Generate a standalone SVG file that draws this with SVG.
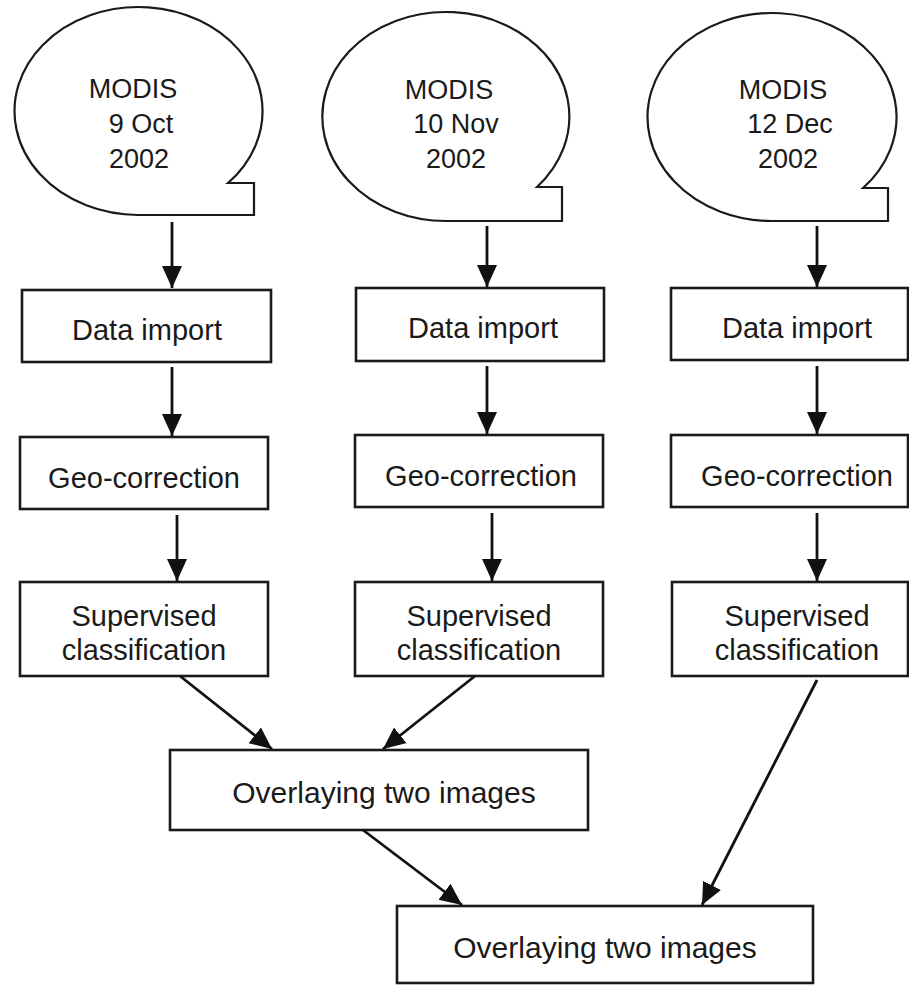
<svg xmlns="http://www.w3.org/2000/svg" width="909" height="985" viewBox="0 0 909 985">
<defs>
<marker id="ah" markerUnits="userSpaceOnUse" markerWidth="24" markerHeight="22" refX="22" refY="10" orient="auto">
<path d="M0,0 L22,10 L0,20 Z" fill="#111"/>
</marker>
<style>
.bub{fill:#fff;stroke:#1a1a1a;stroke-width:2.2}
.box{fill:#fff;stroke:#1a1a1a;stroke-width:2.6}
.t{font-family:"Liberation Sans",Arial,sans-serif;font-size:29px;fill:#1a1a1a;text-anchor:middle}
.tb{font-family:"Liberation Sans",Arial,sans-serif;font-size:27px;fill:#1a1a1a;text-anchor:middle}
.c{stroke:#111;stroke-width:2.8;fill:none;marker-end:url(#ah)}
</style>
</defs>
<rect width="909" height="985" fill="#fff"/>
<g id="modis1">
<path class="bub" d="M228,183 A124,104 0 1 0 138,215 L254,215 L254,183 Z"/>
<text class="tb" x="133" y="98">MODIS</text>
<text class="tb" x="141" y="133">9 Oct</text>
<text class="tb" x="139" y="168">2002</text>
</g>
<g id="modis2">
<path class="bub" d="M537,187 A123.5,104.5 0 1 0 446.5,221 L562,221 L562,187 Z"/>
<text class="tb" x="449" y="99">MODIS</text>
<text class="tb" x="456" y="133">10 Nov</text>
<text class="tb" x="456" y="168">2002</text>
</g>
<g id="modis3">
<path class="bub" d="M863,188 A124.5,104 0 1 0 772.5,221 L888,221 L888,188 Z"/>
<text class="tb" x="783" y="99">MODIS</text>
<text class="tb" x="790" y="133">12 Dec</text>
<text class="tb" x="788" y="168">2002</text>
</g>
<g id="import1"><rect class="box" x="22" y="290" width="249" height="72"/><text class="t" x="147" y="340">Data import</text></g>
<g id="import2"><rect class="box" x="356" y="288" width="248" height="73"/><text class="t" x="483" y="338">Data import</text></g>
<g id="import3"><rect class="box" x="671" y="288" width="237" height="72"/><text class="t" x="797" y="338">Data import</text></g>
<g id="geo1"><rect class="box" x="20" y="437" width="248" height="72"/><text class="t" x="144" y="488">Geo-correction</text></g>
<g id="geo2"><rect class="box" x="355" y="435" width="248" height="72"/><text class="t" x="481" y="486">Geo-correction</text></g>
<g id="geo3"><rect class="box" x="671" y="435" width="237" height="72"/><text class="t" x="797" y="486">Geo-correction</text></g>
<g id="sup1"><rect class="box" x="20" y="582" width="248" height="94"/><text class="t" x="144" y="626">Supervised</text><text class="t" x="144" y="660">classification</text></g>
<g id="sup2"><rect class="box" x="355" y="582" width="248" height="94"/><text class="t" x="479" y="626">Supervised</text><text class="t" x="479" y="660">classification</text></g>
<g id="sup3"><rect class="box" x="672" y="582" width="236" height="94"/><text class="t" x="797" y="626">Supervised</text><text class="t" x="797" y="660">classification</text></g>
<g id="overlay1"><rect class="box" x="170" y="750" width="418" height="80"/><text class="t" x="384" y="803" style="font-size:30px">Overlaying two images</text></g>
<g id="overlay2"><rect class="box" x="397" y="906" width="416" height="77"/><text class="t" x="605" y="958" style="font-size:30px">Overlaying two images</text></g>
<g id="connectors">
<line class="c" x1="172" y1="222" x2="172" y2="288"/>
<line class="c" x1="487" y1="226" x2="487" y2="287"/>
<line class="c" x1="817" y1="226" x2="817" y2="287"/>
<line class="c" x1="172" y1="367" x2="172" y2="436"/>
<line class="c" x1="487" y1="366" x2="487" y2="434"/>
<line class="c" x1="817" y1="366" x2="817" y2="434"/>
<line class="c" x1="177" y1="515" x2="177" y2="581"/>
<line class="c" x1="492" y1="513" x2="492" y2="581"/>
<line class="c" x1="817" y1="513" x2="817" y2="581"/>
<line class="c" x1="180" y1="676" x2="272" y2="749"/>
<line class="c" x1="475" y1="676" x2="383" y2="749"/>
<line class="c" x1="363" y1="830" x2="462" y2="905"/>
<line class="c" x1="817" y1="680" x2="702" y2="905"/>
</g>
</svg>
